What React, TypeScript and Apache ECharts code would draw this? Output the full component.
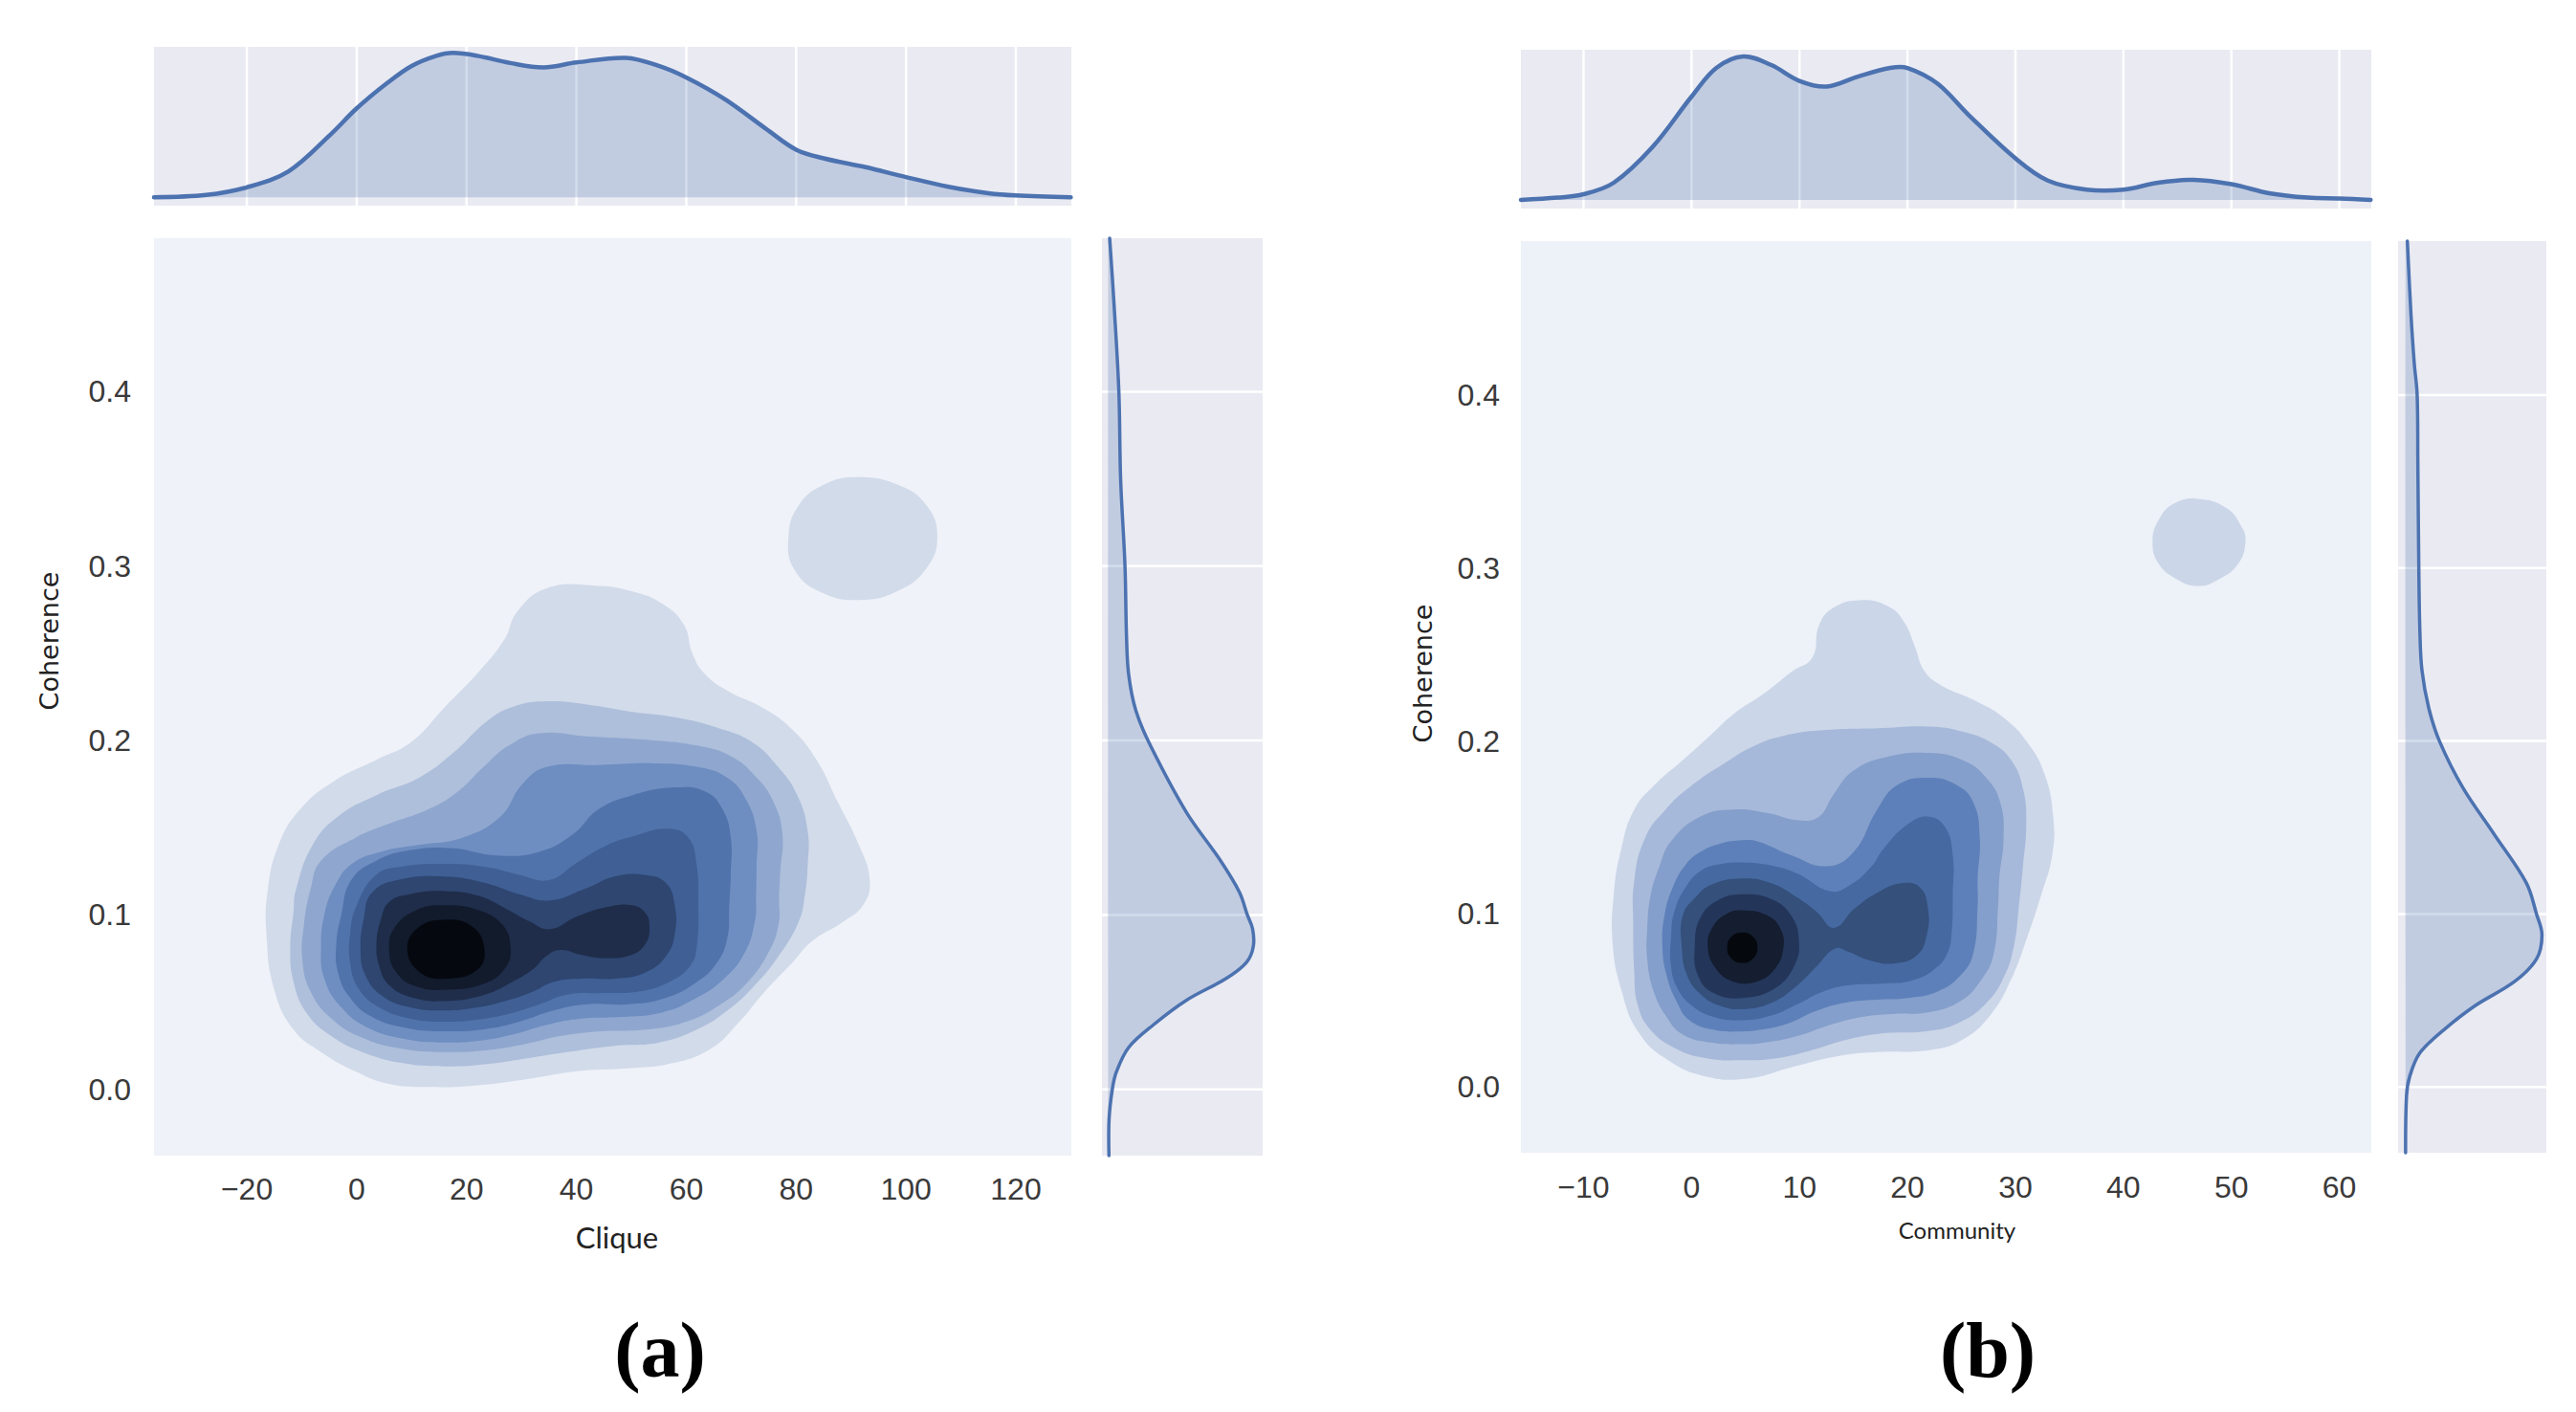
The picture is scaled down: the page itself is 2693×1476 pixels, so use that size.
import React, { useEffect, useRef } from "react";
import * as echarts from "echarts";

// ---------------- tick labels ----------------
const cliqueTicks = [-20, 0, 20, 40, 60, 80, 100, 120];
const communityTicks = [-10, 0, 10, 20, 30, 40, 50, 60];
const coherenceTicks = [0, 0.1, 0.2, 0.3, 0.4];

// ---------------- marginal KDEs ----------------
// (a) top: [clique, relative density]
const cliqueDensity = [
  [-36.9, 0.0], [-27.4, 0.016], [-20, 0.069], [-12.4, 0.18], [-4.9, 0.43], [0, 0.616], [5.5, 0.79],
  [10, 0.91], [14.5, 0.98], [17.5, 1.0], [22, 0.98], [28, 0.93], [34, 0.9], [40, 0.934], [49, 0.966],
  [55, 0.91], [60, 0.83], [67, 0.68], [74.5, 0.475], [80, 0.33], [85, 0.27], [92.5, 0.21], [100, 0.14],
  [107.5, 0.075], [115, 0.028], [120, 0.0125], [130, 0.0],
];
// (a) right: [relative density, coherence]
const coherenceDensityA = [
  [0.005, -0.038], [0.006, -0.017], [0.028, 0.0], [0.056, 0.01], [0.14, 0.024], [0.31, 0.037],
  [0.535, 0.051], [0.817, 0.064], [0.95, 0.073], [0.995, 0.082], [0.99, 0.092], [0.954, 0.1], [0.9, 0.113],
  [0.763, 0.132], [0.535, 0.159], [0.29, 0.197], [0.19, 0.217], [0.14, 0.238], [0.125, 0.261],
  [0.115, 0.3], [0.085, 0.35], [0.073, 0.4], [0.04, 0.45], [0.01, 0.488],
];
// (b) top: [community, relative density]
const communityDensity = [
  [-15.8, 0.0], [-12.4, 0.016], [-10, 0.04], [-7.2, 0.12], [-3.6, 0.37], [0, 0.72], [2.3, 0.92],
  [4.8, 1.0], [7.4, 0.94], [10, 0.83], [12.5, 0.79], [15.4, 0.86], [18.4, 0.92], [20, 0.92],
  [22.8, 0.81], [25.7, 0.59], [30, 0.29], [33, 0.135], [36.6, 0.072], [40, 0.072], [43.2, 0.12],
  [46.5, 0.14], [50, 0.11], [53.5, 0.047], [57.1, 0.016], [60, 0.01], [62.9, 0.0],
];
// (b) right: [relative density, coherence]
const coherenceDensityB = [
  [0.0, -0.038], [0.007, -0.005], [0.03, 0.006], [0.104, 0.0196], [0.28, 0.033], [0.51, 0.047],
  [0.8, 0.061], [0.96, 0.074], [1.0, 0.088], [0.96, 0.1], [0.885, 0.118], [0.65, 0.146], [0.42, 0.173],
  [0.248, 0.2], [0.17, 0.219], [0.12, 0.241], [0.105, 0.263], [0.097, 0.3], [0.09, 0.36],
  [0.085, 0.4], [0.064, 0.418], [0.04, 0.446], [0.013, 0.489],
];

// ---------------- (a) Clique vs Coherence: KDE contour levels [clique, coherence] ----------------
const cliqueLevel1 = [
  [29.3, 0.2742], [34.7, 0.2874], [43.3, 0.2888], [50.3, 0.2854], [55.7, 0.2783], [59.6, 0.2661],
  [61.1, 0.2499], [63.5, 0.2377], [68.1, 0.2275], [73.6, 0.2194], [79.0, 0.2072], [83.7, 0.189],
  [87.6, 0.1646], [91.4, 0.1402], [93.4, 0.1199], [92.2, 0.1057], [88.3, 0.0956], [82.9, 0.085],
  [79.3, 0.0726], [74.3, 0.0561], [69.4, 0.0378], [64.4, 0.0232], [57.5, 0.015], [49.5, 0.012],
  [40.1, 0.0104], [30.8, 0.0058], [21.5, 0.0022], [13.4, 0.0013], [5.9, 0.0031], [-0.3, 0.0104],
  [-6.5, 0.0214], [-11.5, 0.0342], [-15.0, 0.057], [-16.4, 0.0875], [-16.2, 0.1139], [-14.2, 0.1402],
  [-10.3, 0.1605], [-4.1, 0.1768], [3.6, 0.189], [9.9, 0.1991], [16.1, 0.2194], [22.3, 0.2397],
  [26.9, 0.258],
];
const cliqueLevel1Island = [
  [91.0, 0.351], [98.5, 0.3466], [103.7, 0.335], [105.7, 0.3168], [103.7, 0.2987], [98.5, 0.2858],
  [91.7, 0.2806], [85.0, 0.2844], [79.8, 0.2974], [78.6, 0.3168], [80.5, 0.335], [85.0, 0.3466],
];
const cliqueLevel2 = [
  [-11.1, 0.1139], [-8.0, 0.1402], [-3.4, 0.1565], [3.6, 0.1687], [11.4, 0.1788], [17.6, 0.193],
  [23.8, 0.2113], [28.5, 0.2194], [34.7, 0.2225], [42.5, 0.2204], [50.3, 0.2164], [58.0, 0.2133],
  [65.8, 0.2072], [72.0, 0.1991], [76.7, 0.1849], [80.2, 0.1687], [82.1, 0.1484], [82.1, 0.1281],
  [81.6, 0.1118], [80.5, 0.0964], [76.8, 0.0763], [72.5, 0.0598], [67.5, 0.0452], [61.9, 0.0342],
  [55.1, 0.0269], [47.0, 0.025], [38.3, 0.0214], [30.8, 0.0177], [23.4, 0.0144], [15.9, 0.0132],
  [8.4, 0.015], [1.0, 0.0214], [-4.6, 0.0305], [-9.0, 0.0433], [-11.5, 0.0616], [-12.1, 0.0817],
  [-11.5, 0.1019],
];
const cliqueLevel3 = [
  [-6.5, 0.1311], [-0.2, 0.1443], [6.0, 0.1524], [13.0, 0.1605], [18.4, 0.1707], [23.1, 0.1849],
  [27.7, 0.1971], [33.2, 0.2042], [42.5, 0.2022], [54.1, 0.2001], [61.9, 0.1971], [68.1, 0.191],
  [72.8, 0.1788], [75.9, 0.1646], [77.5, 0.1463], [77.1, 0.124], [76.9, 0.11], [76.8, 0.0945],
  [74.9, 0.0781], [71.2, 0.0616], [66.3, 0.0488], [60.0, 0.0388], [52.6, 0.0342], [44.5, 0.0333],
  [37.0, 0.0305], [30.8, 0.026], [23.4, 0.0223], [15.9, 0.0214], [8.4, 0.0232], [1.0, 0.0296],
  [-4.6, 0.0406], [-8.4, 0.0561], [-9.9, 0.0744], [-9.6, 0.0945], [-8.4, 0.1147],
];
const cliqueLevel4 = [
  [-0.9, 0.1293], [4.4, 0.1362], [11.4, 0.1402], [19.2, 0.1443], [26.2, 0.1565], [30.1, 0.1748],
  [34.7, 0.1849], [44.0, 0.1859], [54.1, 0.1869], [61.9, 0.1849], [67.4, 0.1788], [70.8, 0.1666],
  [72.8, 0.1484], [72.8, 0.1281], [72.7, 0.11], [72.5, 0.0964], [70.6, 0.0781], [66.9, 0.0635],
  [61.9, 0.0525], [55.7, 0.0442], [48.2, 0.0415], [40.8, 0.0406], [34.5, 0.0369], [28.3, 0.0314],
  [22.1, 0.0278], [15.9, 0.0269], [9.1, 0.0287], [2.2, 0.0351], [-2.8, 0.047], [-5.9, 0.0635],
  [-6.5, 0.0817], [-5.9, 0.1], [-4.0, 0.1165],
];
const cliqueLevel5 = [
  [-1.0, 0.1199], [3.6, 0.1311], [9.9, 0.1372], [17.6, 0.1382], [25.4, 0.1341], [33.2, 0.1362],
  [39.4, 0.1463], [44.0, 0.1605], [50.3, 0.1687], [58.0, 0.1731], [63.5, 0.1707], [66.6, 0.1605],
  [68.1, 0.1443], [68.1, 0.124], [67.8, 0.1037], [67.5, 0.0872], [65.6, 0.0726], [61.9, 0.0616],
  [56.3, 0.0525], [49.5, 0.0488], [42.0, 0.0488], [35.8, 0.0452], [29.6, 0.0388], [23.4, 0.0346],
  [15.9, 0.0333], [9.1, 0.0351], [2.8, 0.0415], [-1.2, 0.0525], [-3.4, 0.0671], [-3.7, 0.0836],
  [-2.8, 0.1],
];
const cliqueLevel6 = [
  [3.5, 0.1229], [7.8, 0.1275], [15.9, 0.1293], [23.4, 0.1275], [29.6, 0.123], [35.0, 0.12],
  [40.1, 0.13], [45.6, 0.14], [50.3, 0.145], [56.5, 0.1494], [60.4, 0.1443], [61.9, 0.1281],
  [62.2, 0.1078], [61.9, 0.0817], [60.7, 0.0708], [56.9, 0.0616], [51.3, 0.0561], [44.5, 0.0552],
  [38.3, 0.0543], [33.3, 0.0488], [27.7, 0.0433], [22.1, 0.04], [15.9, 0.0388], [9.7, 0.0406],
  [4.1, 0.047], [0.3, 0.058], [-1.2, 0.0726], [-1.2, 0.0891], [0.0, 0.1055],
];
const cliqueLevel7 = [
  [2.8, 0.1128], [7.8, 0.1202], [15.9, 0.122], [23.4, 0.1183], [29.6, 0.1119], [35.2, 0.1083],
  [41.4, 0.1147], [47.0, 0.122], [52.6, 0.1229], [56.3, 0.1183], [57.9, 0.1055], [57.9, 0.0891],
  [56.3, 0.0763], [52.6, 0.0671], [47.0, 0.0635], [40.8, 0.0635], [35.8, 0.0616], [32.1, 0.0561],
  [27.1, 0.0507], [22.1, 0.047], [15.9, 0.0452], [9.7, 0.047], [4.7, 0.0534], [1.6, 0.0653],
  [0.7, 0.0799], [1.3, 0.0982],
];
const cliqueLevel8 = [
  [5.9, 0.1074], [9.7, 0.1119], [15.9, 0.1137], [22.1, 0.111], [27.1, 0.1037], [31.4, 0.0964],
  [35.2, 0.0918], [40.1, 0.0991], [45.7, 0.1046], [50.1, 0.1055], [52.6, 0.1009], [53.3, 0.0927],
  [52.6, 0.0836], [50.1, 0.0772], [45.1, 0.0753], [40.8, 0.0772], [37.0, 0.0799], [34.5, 0.0763],
  [32.1, 0.0689], [28.3, 0.0616], [23.3, 0.0543], [16.5, 0.0507], [10.3, 0.0525], [5.9, 0.0598],
  [4.1, 0.0708], [3.6, 0.0836], [4.4, 0.0973],
];
const cliqueLevel9 = [
  [15.9, 0.1055], [22.1, 0.1028], [26.5, 0.0945], [28.0, 0.0817], [27.1, 0.0699], [23.3, 0.0607],
  [16.5, 0.0571], [10.9, 0.0589], [7.2, 0.0671], [5.9, 0.0799], [6.9, 0.0927], [10.9, 0.1028],
];
const cliqueLevel10 = [
  [16.3, 0.0973], [20.9, 0.0936], [23.2, 0.0817], [22.1, 0.0689], [16.3, 0.0635], [11.5, 0.0671],
  [9.2, 0.0803], [11.2, 0.0927],
];
const cliqueLevels = [
  [cliqueLevel1, cliqueLevel1Island], [cliqueLevel2], [cliqueLevel3], [cliqueLevel4], [cliqueLevel5],
  [cliqueLevel6], [cliqueLevel7], [cliqueLevel8], [cliqueLevel9], [cliqueLevel10],
];

// ---------------- (b) Community vs Coherence: KDE contour levels [community, coherence] ----------------
const communityLevel1 = [
  [11.2, 0.2483], [11.8, 0.2667], [13.1, 0.2769], [15.6, 0.2814], [18.2, 0.2779], [19.7, 0.2687],
  [20.7, 0.2544], [21.6, 0.2401], [23.2, 0.2319], [26.1, 0.2238], [28.9, 0.2135], [31.1, 0.1992],
  [32.7, 0.1808], [33.5, 0.1563], [33.4, 0.1338], [32.4, 0.1113], [31.1, 0.0867], [29.6, 0.0622],
  [27.7, 0.0418], [25.1, 0.0274], [22.0, 0.0213], [17.5, 0.0203], [13.7, 0.018], [9.3, 0.0115],
  [5.2, 0.0049], [1.4, 0.006], [-2.1, 0.0152], [-4.9, 0.0315], [-6.5, 0.0561], [-7.3, 0.0826],
  [-7.2, 0.1113], [-6.5, 0.1379], [-5.3, 0.1604], [-3.4, 0.1747], [-0.8, 0.189], [1.4, 0.2013],
  [3.9, 0.2156], [6.8, 0.2278], [9.3, 0.2401],
];
const communityLevel1Island = [
  [46.9, 0.34], [49.5, 0.3348], [50.9, 0.3243], [51.3, 0.3152], [50.6, 0.3022], [48.7, 0.293],
  [46.9, 0.2896], [45.1, 0.293], [43.3, 0.3022], [42.7, 0.3152], [43.3, 0.3282], [44.7, 0.3374],
];
const communityLevel2 = [
  [8.7, 0.2033], [12.5, 0.2064], [17.2, 0.2074], [22.0, 0.2084], [25.1, 0.2054], [27.7, 0.1992],
  [29.6, 0.189], [30.7, 0.1726], [31.0, 0.1522], [30.7, 0.1276], [30.3, 0.1031], [29.9, 0.0828],
  [29.0, 0.0644], [27.2, 0.0478], [24.6, 0.0367], [21.6, 0.0321], [18.1, 0.0312], [14.5, 0.0275],
  [11.0, 0.0211], [7.7, 0.0165], [4.7, 0.0155], [1.5, 0.0165], [-1.4, 0.022], [-3.8, 0.033],
  [-5.0, 0.0478], [-5.3, 0.0662], [-5.4, 0.0929], [-5.3, 0.1195], [-4.3, 0.144], [-2.4, 0.1604],
  [0.1, 0.1747], [3.0, 0.1869], [5.8, 0.1972],
];
const communityLevel3 = [
  [-3.0, 0.127], [-1.9, 0.142], [0.8, 0.1563], [3.9, 0.1604], [7.1, 0.1583], [9.9, 0.1542],
  [11.8, 0.1563], [13.1, 0.1685], [15.0, 0.1829], [18.2, 0.191], [22.0, 0.1931], [25.1, 0.189],
  [27.3, 0.1788], [28.6, 0.1644], [28.9, 0.144], [28.5, 0.12], [28.4, 0.105], [28.0, 0.0773],
  [26.9, 0.0625], [24.9, 0.0496], [21.9, 0.0432], [18.7, 0.0422], [15.7, 0.0404], [12.8, 0.0358],
  [9.8, 0.0294], [6.85, 0.0257], [4.7, 0.0247], [1.8, 0.0257], [-0.8, 0.0303], [-2.3, 0.0404],
  [-3.5, 0.0552], [-4.1, 0.0736], [-4.1, 0.092], [-3.8, 0.1104],
];
const communityLevel4 = [
  [-1.7, 0.116], [-0.5, 0.1289], [0.9, 0.1362], [2.7, 0.1408], [4.7, 0.1427], [6.1, 0.142],
  [9.3, 0.1338], [12.5, 0.1276], [15.0, 0.1358], [17.2, 0.1604], [19.1, 0.1747], [22.0, 0.1788],
  [24.5, 0.1747], [26.1, 0.1645], [26.7, 0.144], [26.5, 0.12], [26.5, 0.105], [26.1, 0.0773],
  [24.9, 0.0644], [22.8, 0.0552], [20.1, 0.0515], [17.2, 0.0505], [14.2, 0.0487], [11.6, 0.0441],
  [8.9, 0.0367], [6.3, 0.033], [4.7, 0.0321], [2.1, 0.033], [-0.2, 0.0386], [-1.4, 0.0496],
  [-2.3, 0.0644], [-2.7, 0.081], [-2.5, 0.0994],
];
const communityLevel5 = [
  [-1.6, 0.1012], [-0.5, 0.116], [0.9, 0.1252], [2.7, 0.1289], [4.7, 0.1298], [7.4, 0.128],
  [9.8, 0.1233], [12.8, 0.1132], [14.5, 0.116], [16.6, 0.127], [17.8, 0.1379], [20.1, 0.1522],
  [22.0, 0.1563], [23.5, 0.1501], [24.2, 0.1338], [24.2, 0.1113], [24.1, 0.09], [23.7, 0.0773],
  [22.5, 0.0681], [20.4, 0.0616], [17.5, 0.0598], [14.5, 0.0588], [12.2, 0.0552], [9.8, 0.0478],
  [7.4, 0.0413], [4.7, 0.0386], [2.1, 0.0404], [0.06, 0.0469], [-1.3, 0.057], [-1.9, 0.0699],
  [-1.9, 0.0865],
];
const communityLevel6 = [
  [0.35, 0.1095], [1.8, 0.1169], [4.7, 0.1206], [7.4, 0.1178], [9.8, 0.1095], [11.6, 0.1012],
  [13.2, 0.092], [15.1, 0.1031], [17.2, 0.1123], [19.5, 0.1178], [21.2, 0.1151], [21.9, 0.1031],
  [21.8, 0.0883], [20.9, 0.0763], [18.7, 0.0714], [16.3, 0.0736], [14.5, 0.0782], [13.3, 0.08],
  [11.6, 0.0699], [9.8, 0.0588], [7.4, 0.0487], [4.7, 0.045], [2.7, 0.0469], [0.9, 0.0533],
  [-0.4, 0.0644], [-0.9, 0.081], [-0.8, 0.0994],
];
const communityLevel7 = [
  [4.7, 0.1114], [7.4, 0.1086], [9.2, 0.0994], [9.95, 0.0846], [9.5, 0.0699], [7.7, 0.057],
  [4.7, 0.0515], [2.1, 0.0542], [0.6, 0.0644], [0.3, 0.081], [0.8, 0.0976], [2.4, 0.1077],
];
const communityLevel8 = [
  [4.7, 0.1021], [6.85, 0.0997], [8.2, 0.092], [8.5, 0.08], [7.7, 0.0681], [6.0, 0.0609],
  [3.9, 0.0609], [2.3, 0.0681], [1.5, 0.081], [2.0, 0.0929], [3.3, 0.1003],
];
const communityLevel9 = [
  [4.7, 0.0893], [5.7, 0.0868], [6.1, 0.0806], [5.7, 0.0743], [4.7, 0.0717], [3.7, 0.0743],
  [3.3, 0.0806], [3.7, 0.0868],
];
const communityLevels = [
  [communityLevel1, communityLevel1Island], [communityLevel2], [communityLevel3], [communityLevel4],
  [communityLevel5], [communityLevel6], [communityLevel7], [communityLevel8], [communityLevel9],
];

// ---------------- styles ----------------
const CLIQUE_FILLS = [
  "#d2dbea", "#aebfdb", "#8fa7cf", "#6e8dc1", "#5073ab", "#3f5f95", "#2e4670", "#1f2d4a", "#121b2c", "#05090f",
];
const COMMUNITY_FILLS = [
  "#cbd6e8", "#a7b9da", "#849fcb", "#5e80ba", "#4669a1", "#34507b", "#24355a", "#141e30", "#05080d",
];
const MARGIN_BG = "#eaeaf2";
const LINE_COLOR = "#4c72b0";
const FILL_COLOR = "rgba(76,114,176,0.25)";
const TICK_FONT = "'Liberation Sans Narrow', 'Arial Narrow', 'Liberation Sans', sans-serif";

const minusFmt = (v: number) => (v < 0 ? "\u2212" + Math.abs(v) : String(v));
const oneDec = (v: number) => Number(v).toFixed(1);

function hiddenAxis(gridIndex: number, min: number, max: number) {
  return { type: "value", gridIndex, min, max, show: false };
}
function labelAxis(gridIndex: number, min: number, max: number, ticks: number[], fmt: any, margin: number) {
  return {
    type: "value",
    gridIndex,
    min,
    max,
    axisLine: { show: false },
    axisTick: { show: false },
    splitLine: { show: false },
    axisLabel: {
      customValues: ticks,
      formatter: fmt,
      fontSize: 32,
      fontFamily: TICK_FONT,
      color: "#3a3a3a",
      margin,
      showMinLabel: true,
      showMaxLabel: true,
    },
  };
}

function gridLineSeries(idx: number, ticks: number[], vertical: boolean) {
  return {
    type: "custom",
    xAxisIndex: idx,
    yAxisIndex: idx,
    data: ticks.map((v) => (vertical ? [v, 0] : [0, v])),
    encode: { x: 0, y: 1 },
    silent: true,
    z: 1,
    renderItem: (params: any, api: any) => {
      const cs = params.coordSys;
      const p = api.coord([api.value(0), api.value(1)]);
      const shape = vertical
        ? { x1: p[0], y1: cs.y, x2: p[0], y2: cs.y + cs.height }
        : { x1: cs.x, y1: p[1], x2: cs.x + cs.width, y2: p[1] };
      return { type: "line", shape, style: { stroke: "#ffffff", lineWidth: 2.5 } };
    },
  };
}

function marginalSeries(idx: number, pts: number[][], vertical: boolean, lineWidth: number) {
  const first = pts[0];
  const last = pts[pts.length - 1];
  const closed = vertical
    ? [[0, first[1]], ...pts, [0, last[1]]]
    : [[first[0], 0], ...pts, [last[0], 0]];
  return {
    type: "custom",
    xAxisIndex: idx,
    yAxisIndex: idx,
    data: pts,
    encode: { x: 0, y: 1 },
    silent: true,
    z: 3,
    renderItem: (params: any, api: any) => {
      if (params.dataIndex !== 0) return null;
      return {
        type: "group",
        children: [
          {
            type: "polygon",
            shape: { points: closed.map((p) => api.coord(p)), smooth: 0.35 },
            style: { fill: FILL_COLOR },
          },
          {
            type: "polyline",
            shape: { points: pts.map((p) => api.coord(p)), smooth: 0.35 },
            style: { stroke: LINE_COLOR, lineWidth, fill: null, lineJoin: "round", lineCap: "round" },
          },
        ],
      };
    },
  };
}

function contourSeries(idx: number, pts: number[][], fill: string, z: number) {
  return {
    type: "custom",
    xAxisIndex: idx,
    yAxisIndex: idx,
    data: pts,
    encode: { x: 0, y: 1 },
    silent: true,
    z,
    renderItem: (params: any, api: any) => {
      if (params.dataIndex !== 0) return null;
      return {
        type: "polygon",
        shape: { points: pts.map((p) => api.coord(p)), smooth: 0.45 },
        style: { fill },
      };
    },
  };
}

function buildOption() {
  const A_X: [number, number] = [-36.9, 130.1];
  const A_Y: [number, number] = [-0.038, 0.488];
  const B_X: [number, number] = [-15.8, 62.96];
  const B_Y: [number, number] = [-0.038, 0.489];

  const grid = [
    { left: 161, top: 49, width: 959, height: 166, show: true, backgroundColor: MARGIN_BG, borderWidth: 0 },
    { left: 161, top: 249, width: 959, height: 959, show: true, backgroundColor: "#eff2f8", borderWidth: 0 },
    { left: 1152, top: 249, width: 168, height: 959, show: true, backgroundColor: MARGIN_BG, borderWidth: 0 },
    { left: 1590, top: 52, width: 889, height: 166, show: true, backgroundColor: MARGIN_BG, borderWidth: 0 },
    { left: 1590, top: 252, width: 889, height: 953, show: true, backgroundColor: "#edf1f8", borderWidth: 0 },
    { left: 2507, top: 252, width: 155, height: 953, show: true, backgroundColor: MARGIN_BG, borderWidth: 0 },
  ];

  const xAxis = [
    hiddenAxis(0, A_X[0], A_X[1]),
    labelAxis(1, A_X[0], A_X[1], cliqueTicks, minusFmt, 19),
    hiddenAxis(2, -0.043, 1.059),
    hiddenAxis(3, B_X[0], B_X[1]),
    labelAxis(4, B_X[0], B_X[1], communityTicks, minusFmt, 20),
    hiddenAxis(5, -0.055, 1.032),
  ];
  const yAxis = [
    hiddenAxis(0, -0.058, 1.042),
    labelAxis(1, A_Y[0], A_Y[1], coherenceTicks, oneDec, 24),
    hiddenAxis(2, A_Y[0], A_Y[1]),
    hiddenAxis(3, -0.06, 1.047),
    labelAxis(4, B_Y[0], B_Y[1], coherenceTicks, oneDec, 22),
    hiddenAxis(5, B_Y[0], B_Y[1]),
  ];

  const series: any[] = [];
  // marginal grids
  series.push(gridLineSeries(0, cliqueTicks, true));
  series.push(marginalSeries(0, cliqueDensity, false, 4.5));
  series.push(gridLineSeries(2, coherenceTicks, false));
  series.push(marginalSeries(2, coherenceDensityA, true, 3.5));
  series.push(gridLineSeries(3, communityTicks, true));
  series.push(marginalSeries(3, communityDensity, false, 4.5));
  series.push(gridLineSeries(5, coherenceTicks, false));
  series.push(marginalSeries(5, coherenceDensityB, true, 3.5));
  // contours
  cliqueLevels.forEach((polys, i) =>
    polys.forEach((p) => series.push(contourSeries(1, p, CLIQUE_FILLS[i], 2 + i)))
  );
  communityLevels.forEach((polys, i) =>
    polys.forEach((p) => series.push(contourSeries(4, p, COMMUNITY_FILLS[i], 2 + i)))
  );

  const labelFont = "'DejaVu Sans', Verdana, sans-serif";
  const graphic = [
    {
      type: "text", x: 51, y: 670, rotation: Math.PI / 2,
      style: { text: "Coherence", fontSize: 27, fontFamily: labelFont, fill: "#222", align: "center", verticalAlign: "middle" },
    },
    {
      type: "text", x: 1487, y: 704, rotation: Math.PI / 2,
      style: { text: "Coherence", fontSize: 27, fontFamily: labelFont, fill: "#222", align: "center", verticalAlign: "middle" },
    },
    {
      type: "text", x: 645, y: 1293,
      style: { text: "Clique", fontSize: 31, fontFamily: "Lato, 'Open Sans', sans-serif", fill: "#222", align: "center", verticalAlign: "middle" },
    },
    {
      type: "text", x: 2046, y: 1285,
      style: { text: "Community", fontSize: 24, fontFamily: "Lato, 'Open Sans', sans-serif", fill: "#222", align: "center", verticalAlign: "middle" },
    },
    {
      type: "text", x: 690, y: 1411,
      style: { text: "(a)", fontSize: 82, fontWeight: "bold", fontFamily: "'Liberation Serif', 'DejaVu Serif', serif", fill: "#000", align: "center", verticalAlign: "middle" },
    },
    {
      type: "text", x: 2078, y: 1411,
      style: { text: "(b)", fontSize: 82, fontWeight: "bold", fontFamily: "'Liberation Serif', 'DejaVu Serif', serif", fill: "#000", align: "center", verticalAlign: "middle" },
    },
  ];

  return {
    animation: false,
    backgroundColor: "#ffffff",
    grid,
    xAxis,
    yAxis,
    series,
    graphic,
  };
}

export default function App() {
  const ref = useRef<HTMLDivElement>(null);
  useEffect(() => {
    if (!ref.current) return;
    const chart = echarts.init(ref.current, null, { renderer: "svg" });
    chart.setOption(buildOption() as any);
    return () => chart.dispose();
  }, []);
  return (
    <div
      ref={ref}
      style={{ position: "fixed", left: 0, top: 0, width: "2693px", height: "1476px", background: "#fff" }}
    />
  );
}
